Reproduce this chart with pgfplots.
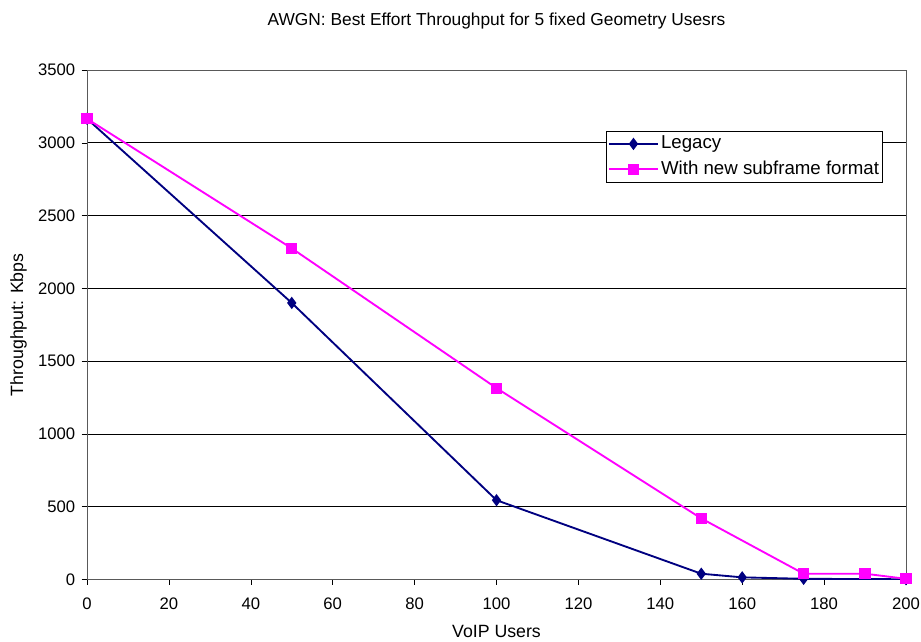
\documentclass[border=0pt]{standalone}
\usepackage{pgfplots}
\pgfplotsset{compat=1.18}
\usepackage{fontspec}
\setmainfont{Liberation Sans}
\usetikzlibrary{calc}
\definecolor{navy}{RGB}{0,0,128}
\definecolor{mag}{RGB}{255,0,255}
\begin{document}
\fontsize{14}{16}\selectfont
\begin{tikzpicture}
\begin{axis}[
  name=ax,
  scale only axis,
  width=614pt, height=382pt,
  xmin=0, xmax=200, ymin=0, ymax=3500,
  xtick={0,20,...,200}, ytick={0,500,...,3500},
  xtick pos=bottom, ytick pos=left,
  tick align=outside,
  tick style={black, thin},
  major tick length=4pt,
  ymajorgrids, grid style={black, line width=0.5pt},
  axis line style={gray!70!black, line width=0.6pt},
  /pgf/number format/assume math mode=true,
  /pgf/number format/1000 sep={},
  ticklabel style={font=\fontsize{12.5}{15}\selectfont},
  xticklabel style={yshift=-5pt, inner xsep=0pt},
  xlabel={VoIP Users}, ylabel={Throughput: Kbps},
  label style={font=\fontsize{13.3}{16}\selectfont},
  xlabel style={yshift=-6pt, inner ysep=1pt},
  ylabel style={yshift=-1pt},
  title={AWGN: Best Effort Throughput for 5 fixed Geometry Usesrs},
  title style={font=\fontsize{13}{15}\selectfont, yshift=20pt},
  legend style={at={(0.634,0.880)}, anchor=north west, draw=black, fill=white,
    font=\fontsize{14}{16}\selectfont, row sep=3pt, inner xsep=1pt, inner ysep=1.5pt,
    nodes={inner xsep=1.5pt}},
  legend cell align=left,
  legend image code/.code={\draw[#1] (0cm,0cm) -- (1.3cm,0cm); \draw[#1, only marks] plot coordinates {(0.65cm,0cm)};},
]
\addplot[navy, line width=1.4pt, mark=diamond*, mark size=3.5pt, mark options={fill=navy}]
  coordinates {(0,3165) (50,1900) (100,545) (150,40) (160,15) (175,5) (200,2)};
\addlegendentry{Legacy}
\addplot[mag, line width=1.4pt, mark=square*, mark size=3.5pt, mark options={fill=mag}]
  coordinates {(0,3165) (50,2275) (100,1315) (150,420) (175,40) (190,40) (200,5)};
\addlegendentry{With new subframe format}
\end{axis}
\path ($(ax.south west)+(-65.25pt,-46.5pt)$) rectangle ($(ax.north east)+(11.25pt,52.5pt)$);
\end{tikzpicture}
\end{document}
